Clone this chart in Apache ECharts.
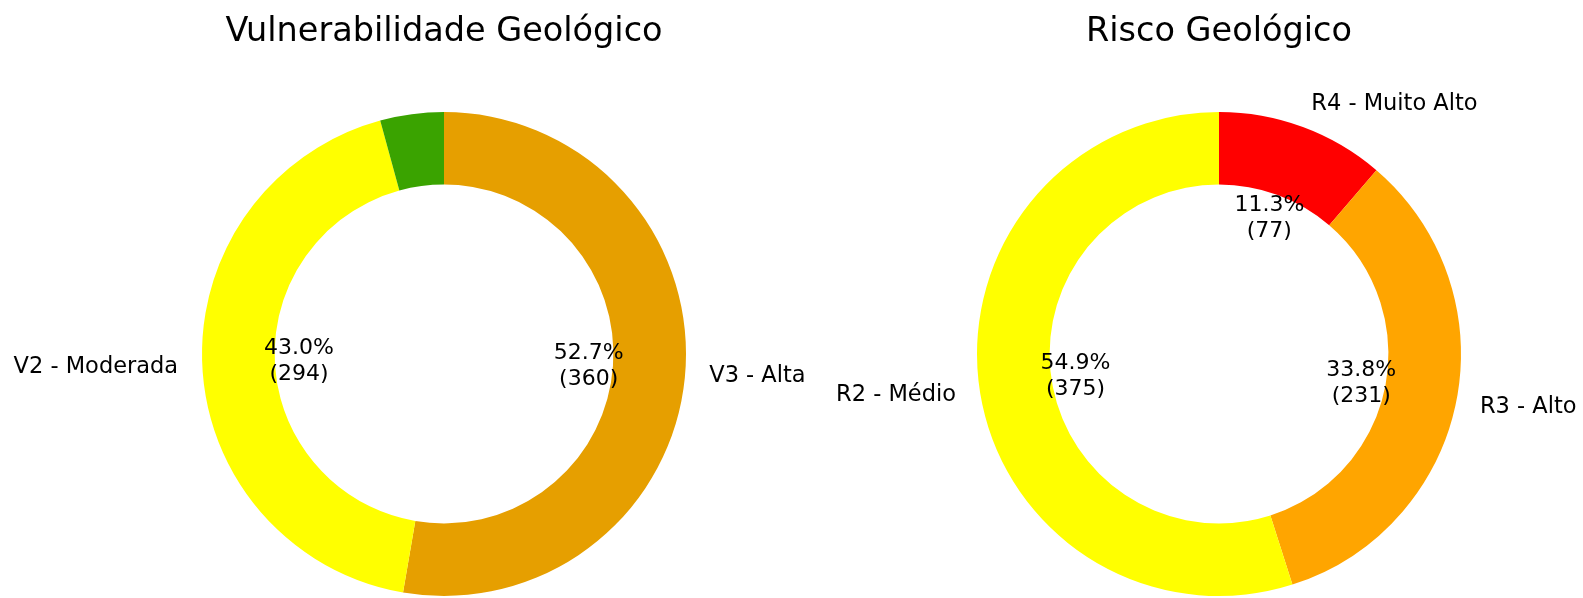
<!DOCTYPE html>
<html><head><meta charset="utf-8">
<script src="https://cdn.jsdelivr.net/npm/echarts@6/dist/echarts.min.js"></script>
<style>html,body{margin:0;padding:0;background:#fff}#c{width:1583px;height:598px}</style>
</head><body><div id="c"></div>
<script>
// ---- data ----
const chartTitles = ['Vulnerabilidade Geológico', 'Risco Geológico'];
const vulnNames = ['V3 - Alta', 'V2 - Moderada', 'V1 - Baixa'];
const vulnValues = [360, 294, 29];
const vulnLabelShown = [true, true, false];
const riskNames = ['R4 - Muito Alto', 'R3 - Alto', 'R2 - Médio'];
const riskValues = [77, 231, 375];
const riskLabelShown = [true, true, true];

// ---- style ----
const vulnColors = ['#E69F00', '#FFFF00', '#3AA300'];
const riskColors = ['#FF0000', '#FFA500', '#FFFF00'];
const FONT = 'DejaVu Sans';
const R = 242;
const centers = [[444, 354], [1219, 354]];

function buildSeries(names, values, colors, shown, center) {
  const total = values.reduce((a, b) => a + b, 0);
  const ring = {
    type: 'pie', center: center, radius: [R * 0.7, R],
    startAngle: 90, clockwise: true, avoidLabelOverlap: false,
    animation: false, silent: true, emphasis: { disabled: true },
    label: { show: true, position: 'outside', color: '#000', fontFamily: FONT, fontSize: 22.5,
             distanceToLabelLine: 0, textBorderWidth: 0, padding: [6, 0, 0, 0] },
    labelLine: { show: false, length: R * 0.1, length2: 0 },
    data: names.map((n, i) => ({ name: n, value: values[i],
      itemStyle: { color: colors[i] }, label: { show: shown[i] } }))
  };
  const pct = {
    type: 'pie', center: center, radius: [135, R * 1.2 - 6 - 135],
    startAngle: 90, clockwise: true, avoidLabelOverlap: false,
    animation: false, silent: true, emphasis: { disabled: true }, z: 5,
    itemStyle: { color: 'rgba(0,0,0,0)' },
    label: { show: true, position: 'inside', rotate: 0, color: '#000', fontFamily: FONT, fontSize: 22,
             lineHeight: 26, align: 'center', textBorderWidth: 0,
             formatter: p => (p.value / total * 100).toFixed(1) + '%\n(' + p.value + ')' },
    labelLine: { show: false },
    data: names.map((n, i) => ({ name: n, value: values[i], label: { show: shown[i] } }))
  };
  return [ring, pct];
}

const chart = echarts.init(document.getElementById('c'), null, { renderer: 'canvas' });
chart.setOption({
  backgroundColor: '#fff',
  animation: false,
  title: chartTitles.map((t, i) => ({
    text: t, left: centers[i][0], top: 15, padding: 0, textAlign: 'center',
    textStyle: { fontFamily: FONT, fontSize: 33.5, fontWeight: 'normal', color: '#000' }
  })),
  series: [
    ...buildSeries(vulnNames, vulnValues, vulnColors, vulnLabelShown, centers[0]),
    ...buildSeries(riskNames, riskValues, riskColors, riskLabelShown, centers[1])
  ]
});
</script></body></html>
